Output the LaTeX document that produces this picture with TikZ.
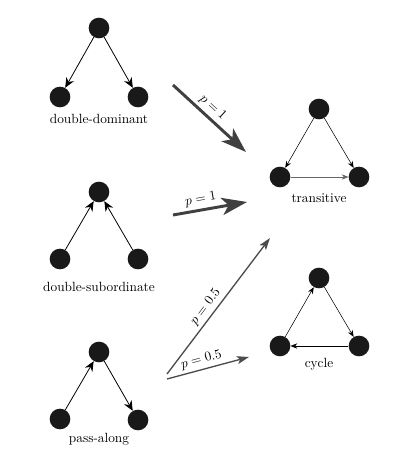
\documentclass[tikz,border=0pt]{standalone}
\usetikzlibrary{arrows.meta}
\begin{document}
\begin{tikzpicture}[x=0.75pt,y=-0.75pt,
    actor/.style={circle,fill=black!90,inner sep=0pt,minimum size=15.5pt},
    tie/.style={-{Stealth[length=7.5pt,width=6.5pt,inset=2.5pt]},semithick},
    thintie/.style={-{Stealth[length=5pt,width=4pt]},thin},
    bigmove/.style={-{Stealth[length=19pt,width=13pt,inset=5pt]},line width=2.2pt,black!75},
    move/.style={-{Stealth[length=9pt,width=6pt,inset=2pt]},line width=1pt,black!70},
    plabel/.style={sloped,above,text=black,inner sep=2.5pt}]
    \useasboundingbox (0,0) rectangle (410,460);
    % double-dominant
    \node[actor] (dd) at (99,28) {};
    \node[actor] (ddl) at (60,97) {};
    \node[actor] (ddr) at (138,97) {};
    \draw[tie] (dd) -- (ddl);
    \draw[tie] (dd) -- (ddr);
    \node (ddname) at (99,119) {double-dominant};
    % double-subordinate
    \node[actor] (ds) at (99,192) {};
    \node[actor] (dsl) at (60,259) {};
    \node[actor] (dsr) at (138,259) {};
    \draw[tie] (dsl) -- (ds);
    \draw[tie] (dsr) -- (ds);
    \node (dsname) at (99,287) {double-subordinate};
    % pass-along
    \node[actor] (pa) at (99,352) {};
    \node[actor] (pal) at (60,419) {};
    \node[actor] (par) at (138,420) {};
    \draw[tie] (pal) -- (pa);
    \draw[tie] (pa) -- (par);
    \node (paname) at (99,439) {pass-along};
    % transitive
    \node[actor] (tr) at (319,109) {};
    \node[actor] (trl) at (280,177) {};
    \node[actor] (trr) at (359,177) {};
    \draw[thintie] (tr) -- (trl);
    \draw[thintie] (tr) -- (trr);
    \draw[thintie,black!60] (trl) -- (trr);
    \node (trname) at (319,198) {transitive};
    % cycle
    \node[actor] (cy) at (319,278) {};
    \node[actor] (cyl) at (280,346) {};
    \node[actor] (cyr) at (359,346) {};
    \draw[thintie] (cyl) -- (cy);
    \draw[thintie] (cy) -- (cyr);
    \draw[thintie] (cyr) -- (cyl);
    \node (cyname) at (319,364) {cycle};
    % moves
    \coordinate (a1) at (173,85);
    \coordinate (b1) at (246,152);
    \coordinate (a2) at (173,215);
    \coordinate (b2) at (247,202);
    \coordinate (a3) at (167,374);
    \coordinate (b3) at (270,238);
    \coordinate (a4) at (167,379);
    \coordinate (b4) at (249,357);
    \draw[bigmove] (a1) -- node[plabel,pos=0.45] {$p=1$} (b1);
    \draw[bigmove] (a2) -- node[plabel,pos=0.4] {$p=1$} (b2);
    \draw[move] (a3) -- node[plabel,pos=0.45] {$p=0.5$} (b3);
    \draw[move] (a4) -- node[plabel,pos=0.45] {$p=0.5$} (b4);
\end{tikzpicture}
\end{document}
